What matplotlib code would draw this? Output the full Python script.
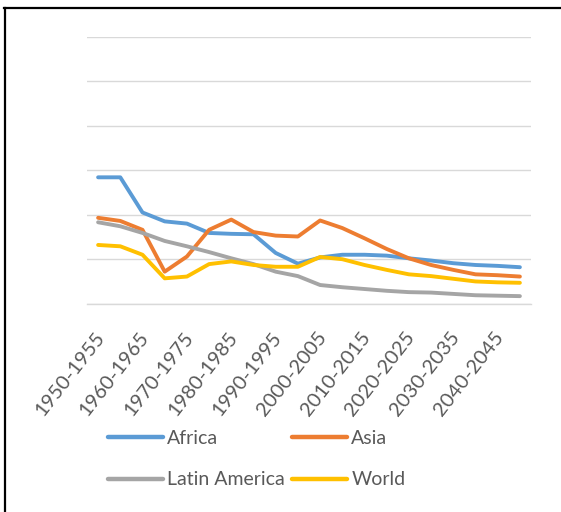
import matplotlib
matplotlib.use("Agg")
import matplotlib.pyplot as plt
import matplotlib.transforms as mtransforms
from matplotlib.lines import Line2D

periods = ["1950-1955", "1955-1960", "1960-1965", "1965-1970", "1970-1975",
           "1975-1980", "1980-1985", "1985-1990", "1990-1995", "1995-2000",
           "2000-2005", "2005-2010", "2010-2015", "2015-2020", "2020-2025",
           "2025-2030", "2030-2035", "2035-2040", "2040-2045", "2045-2050"]

africa = [2.84, 2.84, 2.05, 1.85, 1.80, 1.59, 1.57, 1.56, 1.14, 0.90,
          1.04, 1.10, 1.10, 1.08, 1.02, 0.97, 0.91, 0.87, 0.85, 0.82]
asia = [1.93, 1.86, 1.66, 0.72, 1.06, 1.66, 1.89, 1.61, 1.53, 1.51,
        1.87, 1.70, 1.47, 1.23, 1.02, 0.87, 0.76, 0.66, 0.64, 0.61]
latin_america = [1.83, 1.74, 1.59, 1.41, 1.29, 1.16, 1.02, 0.89, 0.72, 0.62,
                 0.42, 0.37, 0.33, 0.29, 0.26, 0.25, 0.22, 0.19, 0.18, 0.17]
world = [1.32, 1.29, 1.10, 0.57, 0.61, 0.89, 0.95, 0.87, 0.83, 0.83,
         1.05, 1.00, 0.87, 0.76, 0.66, 0.62, 0.56, 0.50, 0.48, 0.47]

series = [("Africa", africa, "#5B9BD5"),
          ("Asia", asia, "#ED7D31"),
          ("Latin America", latin_america, "#A5A5A5"),
          ("World", world, "#FFC000")]

plt.rcParams['font.family'] = ['Lato', 'DejaVu Sans']

fig = plt.figure(figsize=(5.61, 5.12), dpi=100)
ax = fig.add_axes([87/561, 1 - 303.7/512, (531-87)/561, (303.7-36.7)/512])

x = list(range(len(periods)))
handles = {}
for name, vals, col in series:
    h, = ax.plot(x, vals, color=col, lw=2.8, label=name, solid_capstyle='round',
                 solid_joinstyle='round')
    handles[name] = h

ax.set_xlim(-0.5, len(periods) - 0.5)
ax.set_ylim(0, 6)
ax.set_yticks(range(0, 7))
ax.yaxis.grid(True, color='#D9D9D9', lw=1.0)
ax.set_axisbelow(True)
ax.set_yticklabels([])
ax.tick_params(axis='y', length=0)
for s in ['top', 'right', 'left']:
    ax.spines[s].set_visible(False)
ax.spines['bottom'].set_color('#D9D9D9')
ax.spines['bottom'].set_linewidth(1.0)

ax.set_xticks(x[::2])
ax.set_xticklabels(periods[::2], rotation=52, ha='right', rotation_mode='anchor',
                   fontsize=14.5, color='#595959')
ax.tick_params(axis='x', length=0, pad=18)
shift = mtransforms.ScaledTranslation(-4/100, 0, fig.dpi_scale_trans)
for lbl in ax.get_xticklabels():
    lbl.set_transform(lbl.get_transform() + shift)

order = ["Africa", "Latin America", "Asia", "World"]
leg = fig.legend([handles[n] for n in order], order, loc='upper left',
                 bbox_to_anchor=(108/561, 1 - 430/512), ncol=2,
                 frameon=False, fontsize=14, handlelength=2.83, handletextpad=0.2,
                 columnspacing=0.4, labelspacing=1.25, borderaxespad=0,
                 borderpad=0)
for t in leg.get_texts():
    t.set_color('#595959')
for lh in leg.get_lines():
    lh.set_linewidth(3.2)
    lh.set_solid_capstyle('round')

# outer border (top and left)
fig.add_artist(Line2D([4/561, 1], [1 - 8/512, 1 - 8/512], transform=fig.transFigure,
                      color='black', lw=1.6))
fig.add_artist(Line2D([5/561, 5/561], [0, 1 - 8/512], transform=fig.transFigure,
                      color='black', lw=1.6))

fig.savefig("out.png", dpi=100)
